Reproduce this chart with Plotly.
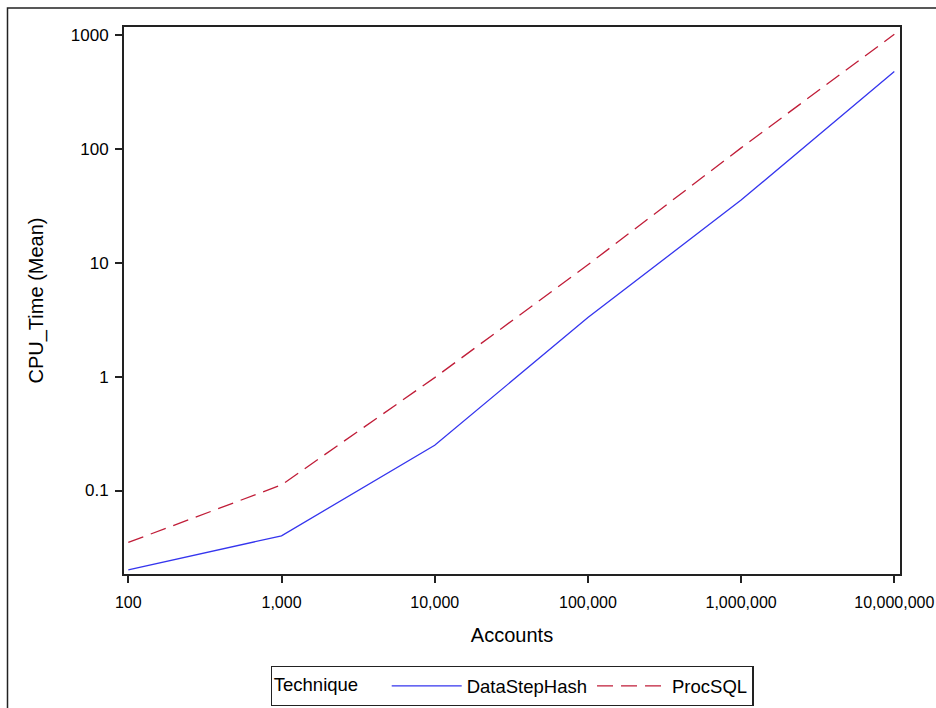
import plotly.graph_objects as go

accounts = [100, 1000, 10000, 100000, 1000000, 10000000]
datastephash = [0.0201, 0.040, 0.25, 3.3, 35.5, 477]
procsql = [0.035, 0.112, 0.98, 9.6, 102, 1015]

x_tickvals = [100, 1000, 10000, 100000, 1000000, 10000000]
x_ticktext = ["100", "1,000", "10,000", "100,000", "1,000,000", "10,000,000"]
y_tickvals = [0.1, 1, 10, 100, 1000]
y_ticktext = ["0.1", "1", "10", "100", "1000"]

W, H = 936, 708
L, R, T, B = 124, 936 - 900, 27, 708 - 574
pw, ph = W - L - R, H - T - B

def px_x(px):
    return (px - L) / pw

def px_y(py):
    return (H - B - py) / ph

FONT = "Liberation Sans, Arial, sans-serif"

fig = go.Figure()
fig.add_trace(go.Scatter(x=accounts, y=datastephash, mode="lines", name="DataStepHash",
                         line=dict(color="#3535ee", width=1.3)))
fig.add_trace(go.Scatter(x=accounts, y=procsql, mode="lines", name="ProcSQL",
                         line=dict(color="#c01d38", width=1.3, dash="16px,8px")))

fig.update_layout(
    width=W, height=H,
    margin=dict(l=L, r=R, t=T, b=B, autoexpand=False),
    paper_bgcolor="white", plot_bgcolor="white",
    font=dict(family=FONT, color="black", size=17),
    showlegend=True,
    legend=dict(
        orientation="h", x=px_x(512), xanchor="center", y=px_y(666), yanchor="top",
        title=dict(text="Technique    ", font=dict(size=18.5)),
        font=dict(size=18.5), bordercolor="#222", borderwidth=1.3,
        itemwidth=70, bgcolor="white",
    ),
    xaxis=dict(
        type="log", range=[1.972, 7.037], automargin=False,
        tickvals=x_tickvals, ticktext=x_ticktext,
        ticks="outside", ticklen=7, tickwidth=1.5, tickcolor="#222",
        ticklabelstandoff=6, ticklabeloverflow="allow",
        showline=True, linecolor="#222", linewidth=2, mirror=True,
        showgrid=False, zeroline=False,
        title=dict(text="Accounts", font=dict(size=20), standoff=18),
        tickfont=dict(size=16),
    ),
    yaxis=dict(
        type="log", range=[-1.733, 3.070], automargin=False,
        tickvals=y_tickvals, ticktext=y_ticktext,
        ticks="outside", ticklen=7, tickwidth=1.5, tickcolor="#222",
        ticklabelstandoff=3, ticklabeloverflow="allow",
        showline=True, linecolor="#222", linewidth=2, mirror=True,
        showgrid=False, zeroline=False,
        title=dict(text="CPU_Time (Mean)", font=dict(size=20), standoff=22),
        tickfont=dict(size=17),
    ),
    shapes=[
        dict(type="rect", xref="paper", yref="paper",
             x0=px_x(7.5), x1=px_x(960), y0=px_y(730), y1=px_y(8),
             line=dict(color="#222", width=1.5), fillcolor="rgba(0,0,0,0)", layer="below"),
    ],
)

fig.write_html(
    "out.html",
    config={"displayModeBar": False},
    post_script="document.body.style.margin='0';document.body.style.overflow='hidden';",
)
